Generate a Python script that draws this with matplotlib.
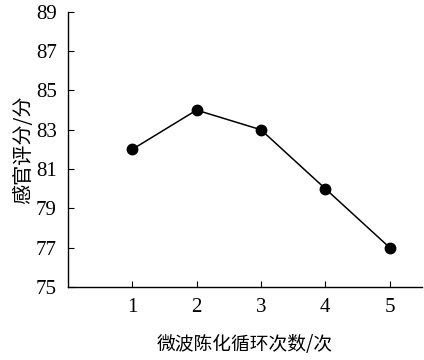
import matplotlib.pyplot as plt

cycles = [1, 2, 3, 4, 5]
scores = [82, 84, 83, 80, 77]
yticks = [75, 77, 79, 81, 83, 85, 87, 89]

plt.rcParams['font.family'] = ['Liberation Serif', 'Noto Sans CJK SC']

fig = plt.figure(figsize=(4.24, 3.6), dpi=100)
ax = fig.add_axes([0.160, 0.203, 0.835, 0.764])

ax.plot(cycles, scores, 'k-', lw=1.1, marker='o', ms=7.5)

ax.set_xlim(0, 5.5)
ax.set_ylim(75, 89)
ax.set_xticks(cycles)
ax.set_yticks(yticks)

for s in ['top', 'right']:
    ax.spines[s].set_visible(False)
for s in ['left', 'bottom']:
    ax.spines[s].set_linewidth(1.0)

ax.tick_params(axis='both', direction='in', length=4, width=0.8, labelsize=15)
ax.tick_params(axis='x', pad=8)
ax.tick_params(axis='y', pad=8)

ax.set_xlabel('微波陈化循环次数/次', fontsize=13.5, labelpad=12,
              family=['Noto Sans CJK SC', 'DejaVu Sans'])
ax.set_ylabel('感官评分/分', fontsize=14.5, labelpad=1,
              family=['Noto Sans CJK SC', 'DejaVu Sans'])

fig.savefig('out.png', dpi=100)
